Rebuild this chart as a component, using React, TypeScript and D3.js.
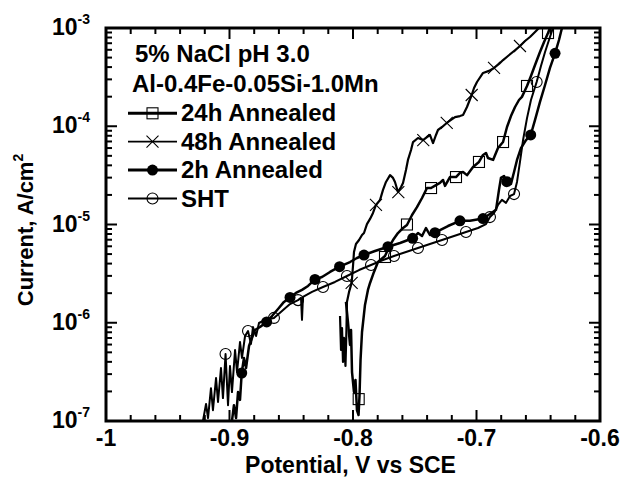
import React from 'react';
import * as d3 from 'd3';

// ---- data (Potential V vs SCE, Current A/cm^2) ----
const shtLine: [number, number][] = [
  [-0.9215,1.0e-7],[-0.9190,1.49e-7],[-0.9174,1.07e-7],[-0.9150,2.16e-7],[-0.9134,1.29e-7],[-0.9109,2.74e-7],
  [-0.9093,1.56e-7],[-0.9069,3.46e-7],[-0.9053,1.71e-7],[-0.9032,4.81e-7],[-0.9012,1.45e-7],[-0.8996,3.63e-7],
  [-0.8980,1.97e-7],[-0.8955,5.28e-7],[-0.8939,3.15e-7],[-0.8915,6.37e-7],[-0.8899,4.38e-7],[-0.8874,7.33e-7],
  [-0.8850,8.24e-7],[-0.8826,6.08e-7],[-0.8810,9.05e-7],[-0.8785,7.33e-7],[-0.8761,9.94e-7],[-0.8713,1.07e-6],
  [-0.8640,1.12e-6],[-0.8575,1.32e-6],[-0.8510,1.55e-6],[-0.8445,1.70e-6],[-0.8421,1.79e-6],[-0.8413,1.07e-6],
  [-0.8405,1.83e-6],[-0.8332,2.06e-6],[-0.8243,2.31e-6],[-0.8146,2.60e-6],[-0.8049,2.99e-6],[-0.7951,3.44e-6],
  [-0.7854,3.87e-6],[-0.7757,4.35e-6],[-0.7668,4.78e-6],[-0.7571,5.25e-6],[-0.7474,5.76e-6],[-0.7377,6.33e-6],
  [-0.7279,6.95e-6],[-0.7182,7.64e-6],[-0.7085,8.39e-6],[-0.6988,9.21e-6],[-0.6923,1.01e-5],[-0.6891,1.19e-5],
  [-0.6858,1.31e-5],[-0.6826,1.58e-5],[-0.6794,1.78e-5],[-0.6761,1.66e-5],[-0.6729,1.95e-5],[-0.6696,2.04e-5],
  [-0.6672,2.71e-5],[-0.6648,4.33e-5],[-0.6623,7.24e-5],[-0.6591,1.21e-4],[-0.6559,1.85e-4],[-0.6513,2.82e-4],
  [-0.6478,4.10e-4],[-0.6445,5.70e-4],[-0.6413,7.55e-4],[-0.6381,1.0e-3],
];
const shtMarks: [number, number][] = [
  [-0.9032,4.81e-7],[-0.8850,8.24e-7],[-0.8640,1.12e-6],[-0.8445,1.70e-6],[-0.8243,2.31e-6],[-0.8049,2.99e-6],
  [-0.7854,3.87e-6],[-0.7668,4.78e-6],[-0.7474,5.76e-6],[-0.7279,6.95e-6],[-0.7085,8.39e-6],[-0.6891,1.19e-5],
  [-0.6696,2.04e-5],[-0.6513,2.82e-4],
];

const h2Line: [number, number][] = [
  [-0.8980,1.0e-7],[-0.8964,1.45e-7],[-0.8947,1.07e-7],[-0.8931,1.97e-7],[-0.8915,1.64e-7],[-0.8901,3.08e-7],
  [-0.8883,4.38e-7],[-0.8866,3.46e-7],[-0.8842,5.80e-7],[-0.8818,7.00e-7],[-0.8794,8.44e-7],[-0.8753,9.05e-7],
  [-0.8699,1.02e-6],[-0.8656,1.17e-6],[-0.8607,1.38e-6],[-0.8559,1.63e-6],[-0.8510,1.81e-6],[-0.8462,2.01e-6],
  [-0.8413,2.16e-6],[-0.8364,2.37e-6],[-0.8308,2.76e-6],[-0.8251,2.92e-6],[-0.8186,3.29e-6],[-0.8109,3.72e-6],
  [-0.8024,4.15e-6],[-0.7968,4.56e-6],[-0.7911,4.89e-6],[-0.7822,5.37e-6],[-0.7717,5.94e-6],[-0.7619,6.48e-6],
  [-0.7517,7.24e-6],[-0.7474,8.19e-6],[-0.7441,7.64e-6],[-0.7409,9.21e-6],[-0.7377,7.82e-6],[-0.7336,8.25e-6],
  [-0.7231,9.65e-6],[-0.7134,1.09e-5],[-0.7053,1.09e-5],[-0.6947,1.15e-5],[-0.6891,1.28e-5],[-0.6842,1.41e-5],
  [-0.6818,2.25e-5],[-0.6802,2.98e-5],[-0.6777,3.12e-5],[-0.6755,2.73e-5],[-0.6721,2.59e-5],[-0.6696,3.42e-5],
  [-0.6672,4.54e-5],[-0.6640,6.00e-5],[-0.6599,7.24e-5],[-0.6561,8.15e-5],[-0.6526,1.16e-4],[-0.6486,1.77e-4],
  [-0.6445,2.63e-4],[-0.6405,3.92e-4],[-0.6364,5.52e-4],[-0.6332,7.55e-4],[-0.6308,1.0e-3],
];
const h2Marks: [number, number][] = [
  [-0.8901,3.08e-7],[-0.8699,1.02e-6],[-0.8510,1.81e-6],[-0.8308,2.76e-6],[-0.8109,3.72e-6],[-0.7911,4.89e-6],
  [-0.7717,5.94e-6],[-0.7517,7.24e-6],[-0.7336,8.25e-6],[-0.7134,1.09e-5],[-0.6947,1.15e-5],[-0.6755,2.73e-5],
  [-0.6561,8.15e-5],[-0.6364,5.52e-4],
];

const h24Line: [number, number][] = [
  [-0.8057,1.63e-6],[-0.8041,1.02e-6],[-0.8024,5.94e-7],[-0.8016,8.44e-7],[-0.8008,3.15e-7],[-0.7992,1.97e-7],
  [-0.7980,2.62e-7],[-0.7968,1.29e-7],[-0.7955,1.15e-7],[-0.7947,1.84e-7],[-0.7939,4.18e-7],[-0.7927,8.05e-7],
  [-0.7903,1.52e-6],[-0.7879,2.16e-6],[-0.7862,2.54e-6],[-0.7830,3.29e-6],[-0.7798,4.15e-6],[-0.7741,4.78e-6],
  [-0.7700,6.18e-6],[-0.7676,6.95e-6],[-0.7636,8.19e-6],[-0.7595,9.21e-6],[-0.7563,9.88e-6],[-0.7522,1.25e-5],
  [-0.7482,1.50e-5],[-0.7441,1.86e-5],[-0.7401,2.35e-5],[-0.7368,2.35e-5],[-0.7328,2.52e-5],[-0.7296,2.65e-5],
  [-0.7271,2.84e-5],[-0.7255,2.47e-5],[-0.7215,3.04e-5],[-0.7166,3.04e-5],[-0.7134,3.35e-5],[-0.7109,3.42e-5],
  [-0.7077,3.18e-5],[-0.7028,3.85e-5],[-0.6980,4.33e-5],[-0.6947,5.10e-5],[-0.6923,5.34e-5],[-0.6907,4.75e-5],
  [-0.6866,4.54e-5],[-0.6826,6.00e-5],[-0.6785,6.91e-5],[-0.6753,9.83e-5],[-0.6721,1.27e-4],[-0.6688,1.57e-4],
  [-0.6656,1.85e-4],[-0.6632,1.99e-4],[-0.6591,2.57e-4],[-0.6559,3.25e-4],[-0.6526,4.20e-4],[-0.6486,5.70e-4],
  [-0.6453,7.20e-4],[-0.6421,8.89e-4],[-0.6405,1.0e-3],
];
const h24Marks: [number, number][] = [
  [-0.7954,1.67e-7],[-0.7741,4.67e-6],[-0.7563,1.0e-5],[-0.7368,2.35e-5],[-0.7166,3.04e-5],[-0.6980,4.33e-5],
  [-0.6785,6.91e-5],[-0.6591,2.57e-4],[-0.6421,8.89e-4],
];

const h48Line: [number, number][] = [
  [-0.8105,1.17e-6],[-0.8097,5.28e-7],[-0.8089,8.84e-7],[-0.8081,3.99e-7],[-0.8073,7.00e-7],[-0.8061,3.63e-7],
  [-0.8053,8.44e-7],[-0.8049,1.63e-6],[-0.8032,2.06e-6],[-0.8011,2.54e-6],[-0.8000,3.78e-6],[-0.7992,5.25e-6],
  [-0.7976,6.33e-6],[-0.7951,6.95e-6],[-0.7927,7.82e-6],[-0.7911,8.19e-6],[-0.7887,1.01e-5],[-0.7862,1.14e-5],
  [-0.7838,1.31e-5],[-0.7814,1.58e-5],[-0.7781,1.78e-5],[-0.7757,2.25e-5],[-0.7733,2.71e-5],[-0.7700,3.18e-5],
  [-0.7676,2.98e-5],[-0.7660,2.71e-5],[-0.7636,2.14e-5],[-0.7611,2.41e-5],[-0.7595,2.65e-5],[-0.7571,3.59e-5],
  [-0.7555,4.54e-5],[-0.7530,5.73e-5],[-0.7514,6.91e-5],[-0.7474,7.59e-5],[-0.7433,7.24e-5],[-0.7401,7.77e-5],
  [-0.7377,8.15e-5],[-0.7352,6.75e-5],[-0.7328,8.15e-5],[-0.7312,9.16e-5],[-0.7279,9.83e-5],[-0.7241,1.08e-4],
  [-0.7206,1.16e-4],[-0.7174,1.24e-4],[-0.7134,1.27e-4],[-0.7109,1.30e-4],[-0.7077,1.57e-4],[-0.7039,2.08e-4],
  [-0.7020,2.45e-4],[-0.6996,2.82e-4],[-0.6947,3.49e-4],[-0.6899,3.66e-4],[-0.6858,3.92e-4],[-0.6818,4.30e-4],
  [-0.6785,4.72e-4],[-0.6745,5.19e-4],[-0.6696,5.83e-4],[-0.6648,6.56e-4],[-0.6607,7.37e-4],[-0.6567,8.10e-4],
  [-0.6526,9.11e-4],[-0.6494,1.0e-3],
];
const h48Marks: [number, number][] = [
  [-0.8011,2.54e-6],[-0.7814,1.58e-5],[-0.7633,2.14e-5],[-0.7431,7.24e-5],[-0.7241,1.08e-4],[-0.7039,2.08e-4],
  [-0.6858,3.92e-4],[-0.6648,6.56e-4],
];

const xMajor = [-1, -0.9, -0.8, -0.7, -0.6];
const xLabels = ['-1', '-0.9', '-0.8', '-0.7', '-0.6'];
const yDecades = [1e-7, 1e-6, 1e-5, 1e-4, 1e-3];
const yExps = ['-7', '-6', '-5', '-4', '-3'];
const titleLines = ['5% NaCl pH 3.0', 'Al-0.4Fe-0.05Si-1.0Mn'];
const seriesNames = ['24h Annealed', '48h Annealed', '2h Annealed', 'SHT'];

const W = 632, H = 489;
const L = 106, R = 600, T = 28, B = 421;
const FONT = 'Liberation Sans, Arial, Helvetica, sans-serif';

type Kind = 'square' | 'cross' | 'dot' | 'circle';

function Marker({ kind, x, y }: { kind: Kind; x: number; y: number }) {
  if (kind === 'square') return <rect x={x - 5.5} y={y - 5.5} width={11} height={11} fill="none" stroke="#000" strokeWidth={1.1} />;
  if (kind === 'cross') return <path d={`M${x - 6},${y - 6}L${x + 6},${y + 6}M${x - 6},${y + 6}L${x + 6},${y - 6}`} stroke="#000" strokeWidth={1.1} />;
  if (kind === 'dot') return <circle cx={x} cy={y} r={5.5} fill="#000" />;
  return <circle cx={x} cy={y} r={5.5} fill="none" stroke="#000" strokeWidth={1.1} />;
}

export default function App() {
  const x = d3.scaleLinear().domain([-1, -0.6]).range([L, R]);
  const y = d3.scaleLog().domain([1e-7, 1e-3]).range([B, T]);
  const line = d3.line<[number, number]>().x(d => x(d[0])).y(d => y(d[1]));

  const series: { line: [number, number][]; marks: [number, number][]; kind: Kind; w: number; lw: number }[] = [
    { line: shtLine, marks: shtMarks, kind: 'circle', w: 2, lw: 1.8 },
    { line: h2Line, marks: h2Marks, kind: 'dot', w: 2.5, lw: 3 },
    { line: h24Line, marks: h24Marks, kind: 'square', w: 2.5, lw: 3 },
    { line: h48Line, marks: h48Marks, kind: 'cross', w: 2.2, lw: 1.8 },
  ];
  const legendOrder = [2, 3, 1, 0];

  const xMinor = d3.range(0, 21).map(i => -1 + i * 0.02);
  const yMinor: number[] = [];
  for (let e = -7; e < -3; e++) for (let m = 2; m <= 9; m++) yMinor.push(m * Math.pow(10, e));

  return (
    <svg width={W} height={H} style={{ position: 'absolute', left: 0, top: 0, background: '#fff' }} fontFamily={FONT}>
      <rect x={0} y={0} width={W} height={H} fill="#fff" />
      <defs>
        <clipPath id="plotclip"><rect x={L} y={T} width={R - L} height={B - T} /></clipPath>
      </defs>
      <g clipPath="url(#plotclip)">
        {series.map((s, i) => (
          <g key={i}>
            <path d={line(s.line) || ''} fill="none" stroke="#000" strokeWidth={s.w} strokeLinejoin="round" />
            {s.marks.map((p, j) => <Marker key={j} kind={s.kind} x={x(p[0])} y={y(p[1])} />)}
          </g>
        ))}
      </g>
      {/* ticks */}
      <g stroke="#000" strokeWidth={2}>
        {xMinor.map((v, i) => {
          const major = xMajor.some(m => Math.abs(m - v) < 1e-9);
          const len = major ? 11 : 6;
          return (
            <g key={i}>
              <line x1={x(v)} x2={x(v)} y1={B} y2={B - len} />
              <line x1={x(v)} x2={x(v)} y1={T} y2={T + len} />
            </g>
          );
        })}
        {yMinor.map((v, i) => (
          <g key={i}>
            <line x1={L} x2={L + 6} y1={y(v)} y2={y(v)} />
            <line x1={R} x2={R - 6} y1={y(v)} y2={y(v)} />
          </g>
        ))}
        {yDecades.map((v, i) => (
          <g key={i}>
            <line x1={L} x2={L + 11} y1={y(v)} y2={y(v)} />
            <line x1={R} x2={R - 11} y1={y(v)} y2={y(v)} />
          </g>
        ))}
      </g>
      <rect x={L} y={T} width={R - L} height={B - T} fill="none" stroke="#000" strokeWidth={3} />
      {/* tick labels */}
      {xMajor.map((v, i) => (
        <text key={i} x={x(v)} y={446} textAnchor="middle" fontSize={23} fontWeight="bold">{xLabels[i]}</text>
      ))}
      {yDecades.map((v, i) => (
        <text key={i} x={52} y={y(v) + 7} fontSize={23} fontWeight="bold">
          10<tspan fontSize={14} dy={-11}>{yExps[i]}</tspan>
        </text>
      ))}
      {/* axis titles */}
      <text x={350.5} y={473} textAnchor="middle" fontSize={23} fontWeight="bold">Potential, V vs SCE</text>
      <text transform="translate(33,230) rotate(-90)" textAnchor="middle" fontSize={22} fontWeight="bold">
        Current, A/cm<tspan fontSize={14} dy={-10}>2</tspan>
      </text>
      {/* legend */}
      <text x={135} y={62} fontSize={24} fontWeight="bold">{titleLines[0]}</text>
      <text x={132} y={92} fontSize={24} fontWeight="bold">{titleLines[1]}</text>
      {legendOrder.map((si, r) => {
        const cy = 113.3 + r * 28.4;
        const s = series[si];
        return (
          <g key={r}>
            <line x1={128} x2={177} y1={cy} y2={cy} stroke="#000" strokeWidth={s.lw} />
            <Marker kind={s.kind} x={152.5} y={cy} />
            <text x={181} y={cy + 8} fontSize={24} fontWeight="bold">{seriesNames[r]}</text>
          </g>
        );
      })}
    </svg>
  );
}
